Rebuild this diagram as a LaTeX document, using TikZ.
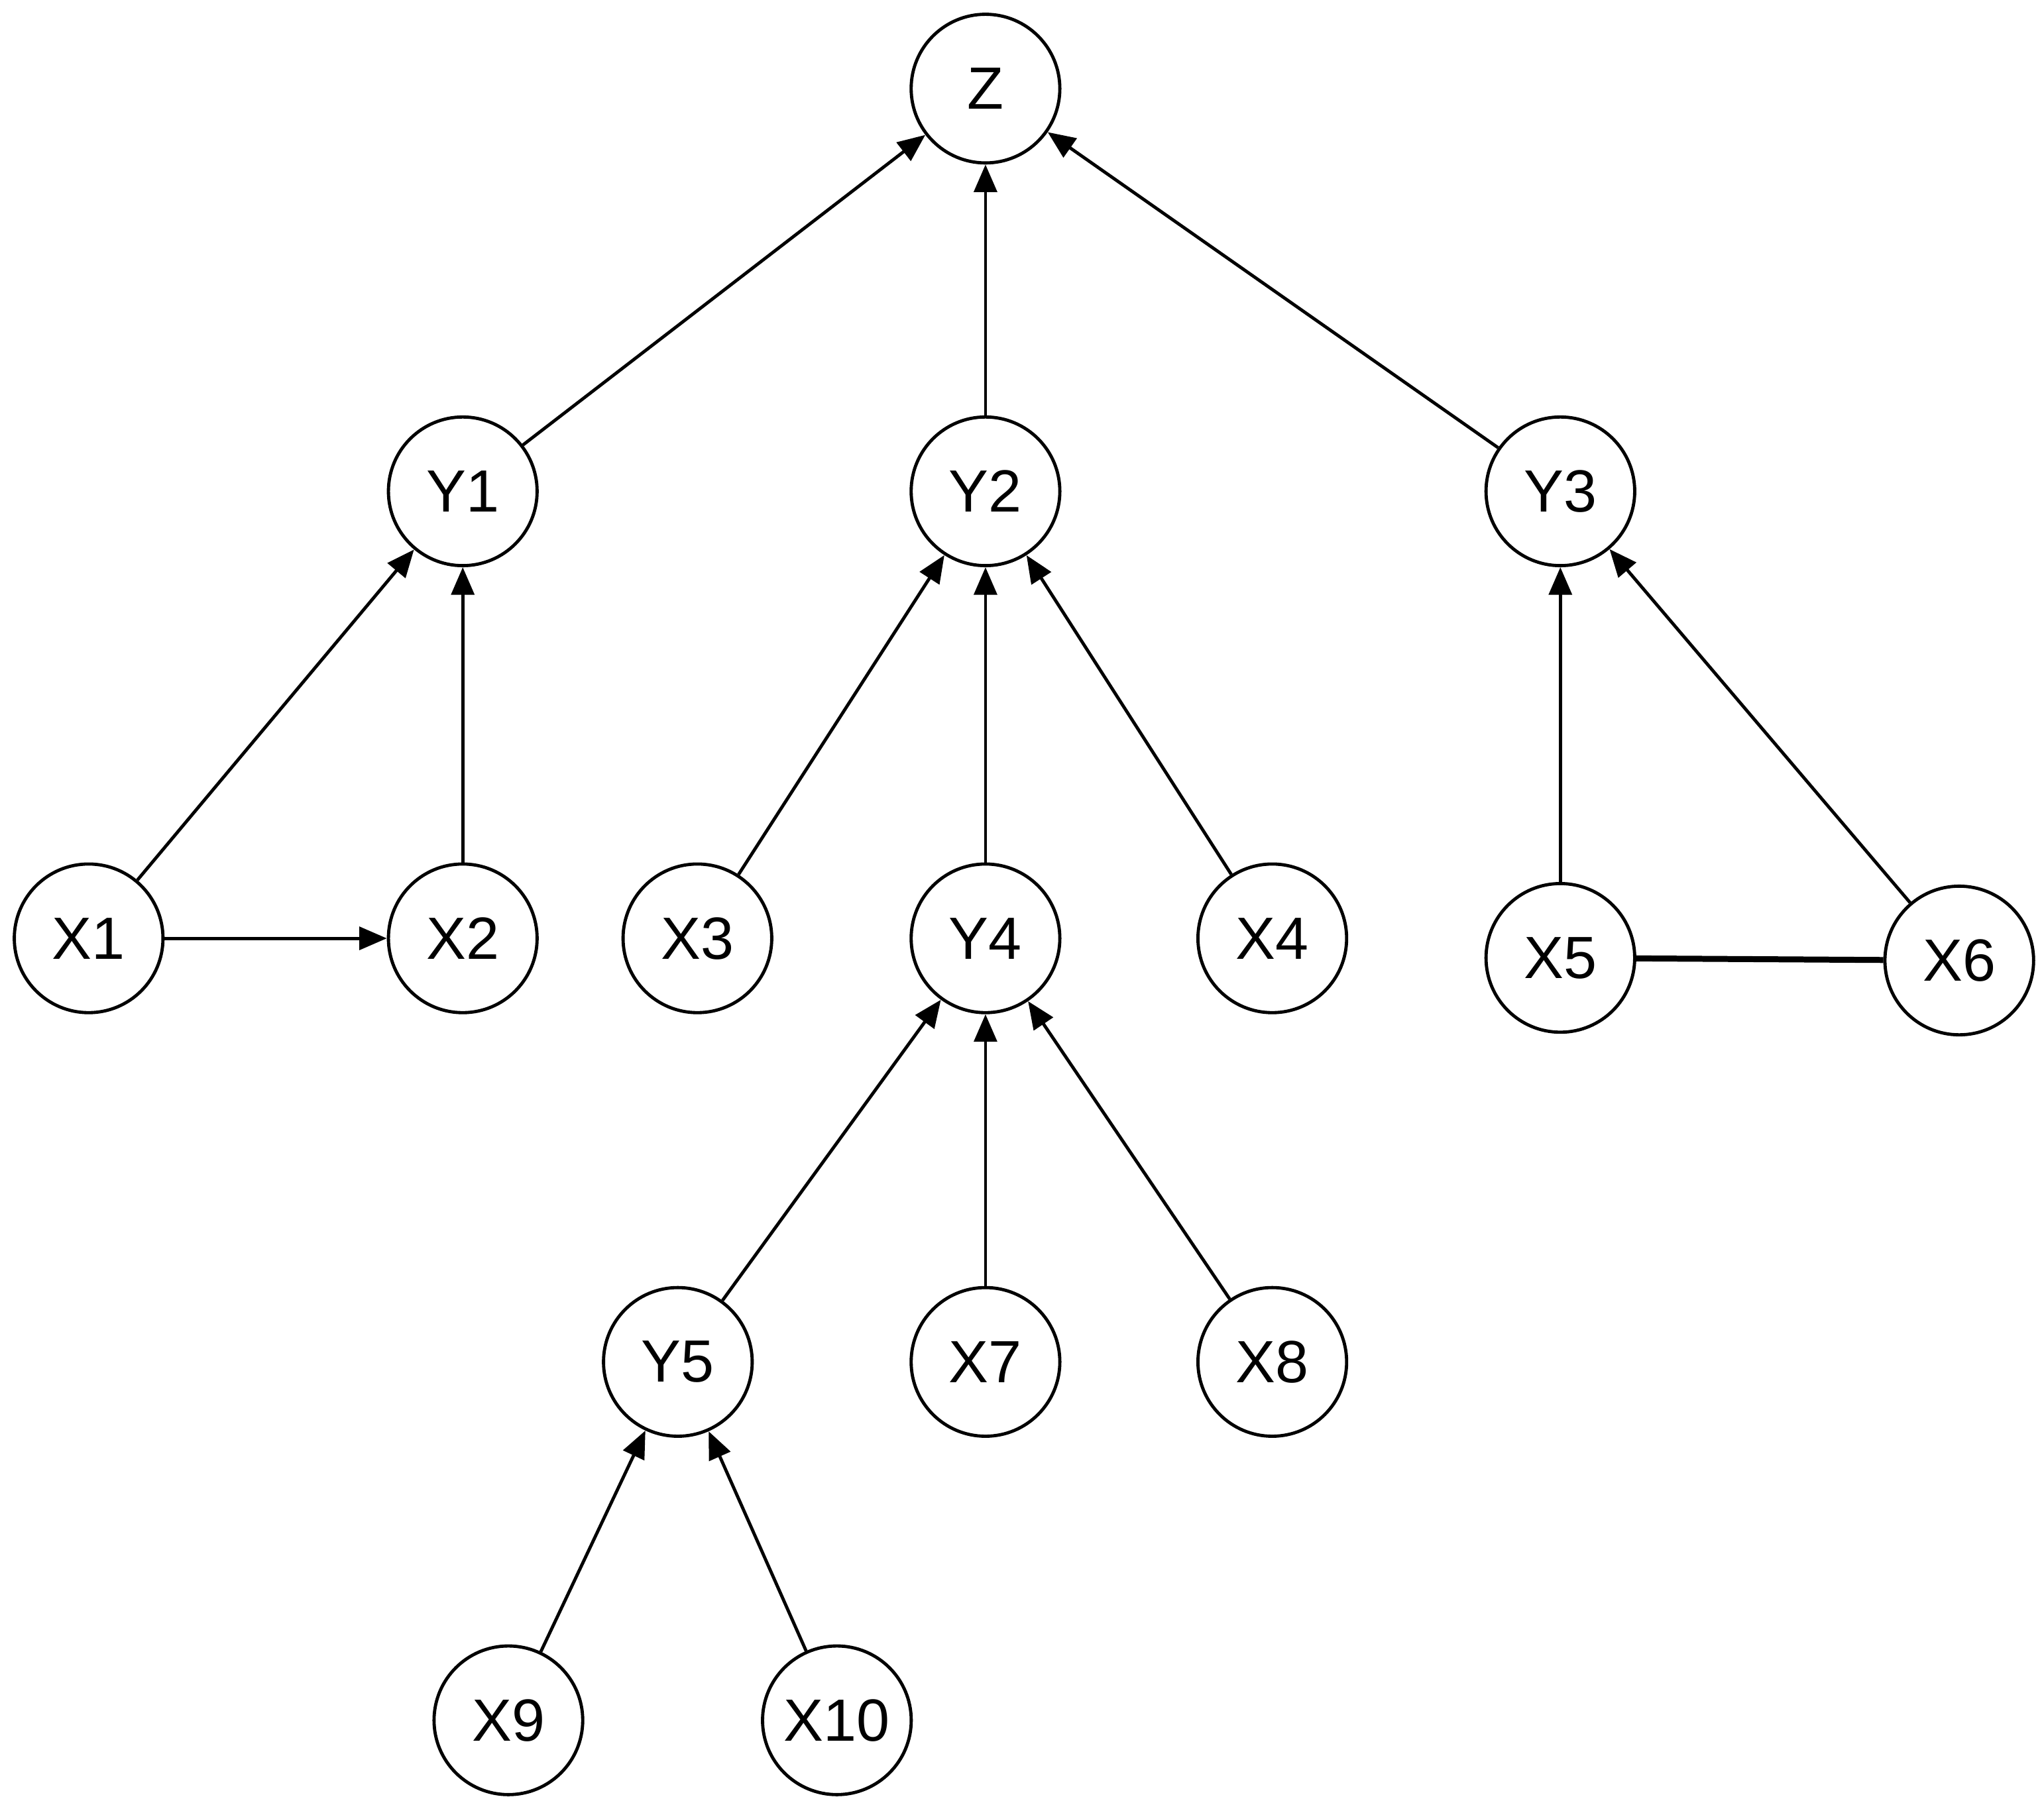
\documentclass[tikz,border=0pt]{standalone}
\usepackage{fontspec}
\setmainfont{Liberation Sans}
\usetikzlibrary{arrows.meta}
\begin{document}
\begin{tikzpicture}[x=0.01cm,y=-0.01cm,
  nd/.style={circle,draw,line width=0.7pt,minimum size=1.14cm,inner sep=0pt,font=\fontsize{13}{15}\selectfont},
  ar/.style={line width=0.7pt,-{Triangle[length=6pt,width=5pt]}}]
\useasboundingbox (0,0) rectangle (1568,1383);
\node[nd] (Z) at (756,68) {Z};
\node[nd] (Y1) at (355,377) {Y1};
\node[nd] (Y2) at (756,377) {Y2};
\node[nd] (Y3) at (1197,377) {Y3};
\node[nd] (X1) at (68,720) {X1};
\node[nd] (X2) at (355,720) {X2};
\node[nd] (X3) at (535,720) {X3};
\node[nd] (Y4) at (756,720) {Y4};
\node[nd] (X4) at (976,720) {X4};
\node[nd] (X5) at (1197,735) {X5};
\node[nd] (X6) at (1503,737) {X6};
\node[nd] (Y5) at (520,1045) {Y5};
\node[nd] (X7) at (756,1045) {X7};
\node[nd] (X8) at (976,1045) {X8};
\node[nd] (X9) at (390,1320) {X9};
\node[nd] (X10) at (642,1320) {X10};
\draw[ar] (Y1) -- (Z);
\draw[ar] (Y2) -- (Z);
\draw[ar] (Y3) -- (Z);
\draw[ar] (X1) -- (Y1);
\draw[ar] (X2) -- (Y1);
\draw[ar] (X1) -- (X2);
\draw[ar] (X3) -- (Y2);
\draw[ar] (Y4) -- (Y2);
\draw[ar] (X4) -- (Y2);
\draw[ar] (X5) -- (Y3);
\draw[ar] (X6) -- (Y3);
\draw[line width=1.3pt] (X5) -- (X6);
\draw[ar] (Y5) -- (Y4);
\draw[ar] (X7) -- (Y4);
\draw[ar] (X8) -- (Y4);
\draw[ar] (X9) -- (Y5);
\draw[ar] (X10) -- (Y5);
\end{tikzpicture}
\end{document}
